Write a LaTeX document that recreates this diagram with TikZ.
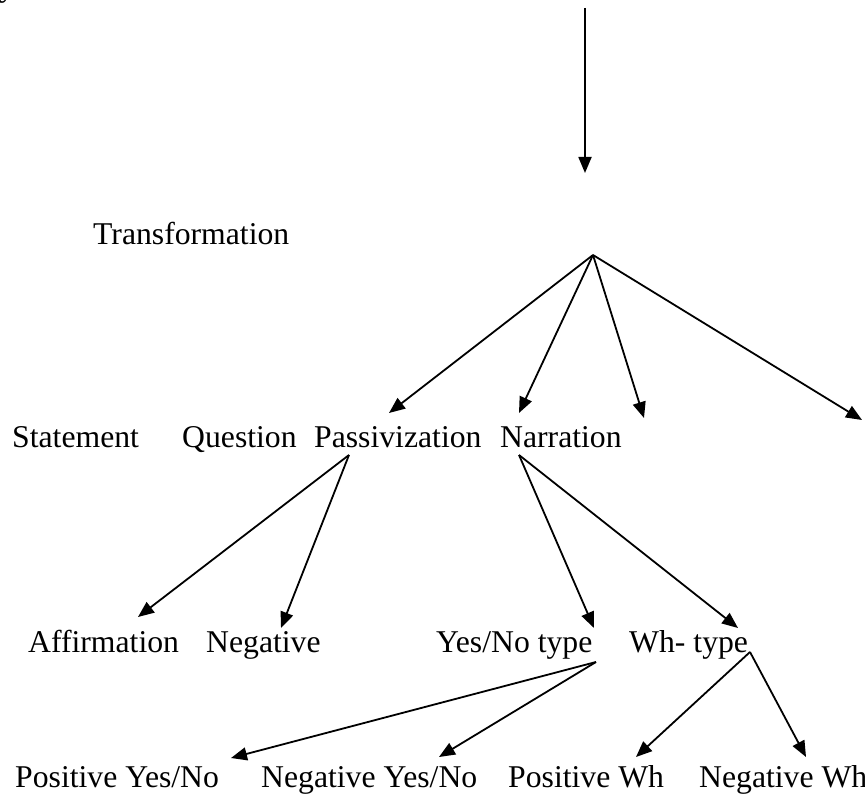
\documentclass[tikz,border=0pt]{standalone}
\usepackage{fontspec}
\setmainfont{Liberation Serif}
\usetikzlibrary{arrows.meta}
\begin{document}
\begin{tikzpicture}[x=1pt,y=-1pt,
  lbl/.style={anchor=base west,inner sep=0pt,font=\fontsize{31.7}{36}\selectfont},
  link/.style={line width=1.8pt,-{Triangle[length=16pt,width=13pt]}}]
\useasboundingbox (0,0) rectangle (865,794);
\fill[white] (0,0) rectangle (865,794);

% descender of a line set above this sheet
\node[lbl] (prev) at (-1,-3) {y};

% labels
\node[lbl] (trans) at (93,245) {Transformation};
\node[lbl] (stmt)  at (12,447)  {Statement};
\node[lbl] (quest) at (182,447) {Question};
\node[lbl] (pass)  at (314,447) {Passivization};
\node[lbl] (narr)  at (500,447) {Narration};
\node[lbl] (aff)   at (28,652)  {Affirmation};
\node[lbl] (neg)   at (206,652) {Negative};
\node[lbl] (yn)    at (436,652) {Yes/No type};
\node[lbl] (wh)    at (629,652) {Wh- type};
\node[lbl] (pyn)   at (15,787)  {Positive Yes/No};
\node[lbl] (nyn)   at (261,787) {Negative Yes/No};
\node[lbl] (pwh)   at (508,787) {Positive Wh};
\node[lbl] (nwh)   at (699,787) {Negative Wh};

% connector ends
\coordinate (top)   at (585,8);
\coordinate (down)  at (585,173);
\coordinate (apex)  at (593,255);
\coordinate (t1)    at (389,413);
\coordinate (t2)    at (519,413);
\coordinate (t3)    at (644,418);
\coordinate (t4)    at (862,420);
\coordinate (passB) at (349,455);
\coordinate (narrB) at (519,455);
\coordinate (affT)  at (138,617);
\coordinate (negT)  at (281,628);
\coordinate (ynT)   at (594,628);
\coordinate (whT)   at (738,628);
\coordinate (ynB)   at (596,662);
\coordinate (whB)   at (750,652);
\coordinate (pynT)  at (231,758);
\coordinate (nynT)  at (439,757);
\coordinate (pwhT)  at (636,757);
\coordinate (nwhT)  at (806,757);

% arrows
\draw[link] (top) -- (down);
\draw[link] (apex) -- (t1);
\draw[link] (apex) -- (t2);
\draw[link] (apex) -- (t3);
\draw[link] (apex) -- (t4);
\draw[link] (passB) -- (affT);
\draw[link] (passB) -- (negT);
\draw[link] (narrB) -- (ynT);
\draw[link] (narrB) -- (whT);
\draw[link] (ynB) -- (pynT);
\draw[link] (ynB) -- (nynT);
\draw[link] (whB) -- (pwhT);
\draw[link] (whB) -- (nwhT);
\end{tikzpicture}
\end{document}
